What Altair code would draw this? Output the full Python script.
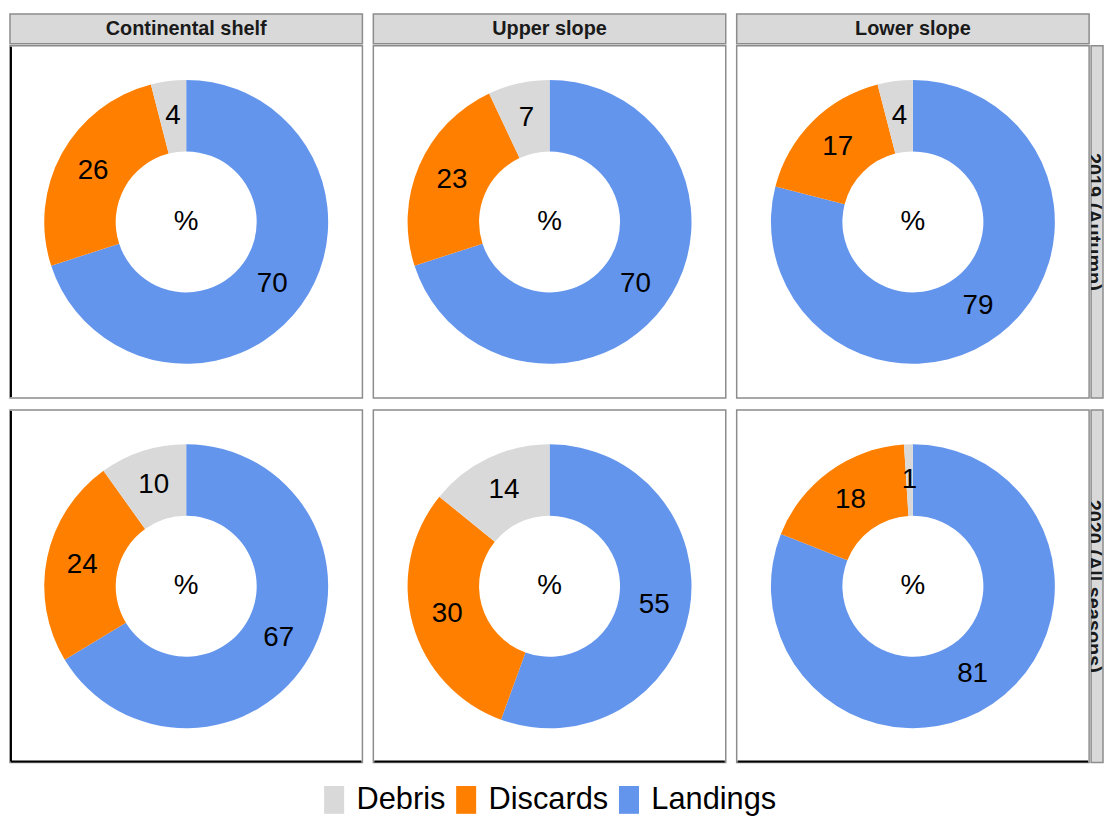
import altair as alt
import pandas as pd

habitats = ["Continental shelf", "Upper slope", "Lower slope"]
periods = ["2019 (Autumn)", "2020 (All seasons)"]
categories = ["Landings", "Discards", "Debris"]
# values in panel order: row 2019 (shelf, upper, lower), row 2020 (shelf, upper, lower)
landings = [70, 70, 79, 67, 55, 81]
discards = [26, 23, 17, 24, 30, 18]
debris = [4, 7, 4, 10, 14, 1]
center_label = ["%"]

legend_order = ["Debris", "Discards", "Landings"]
colors = ["#d9d9d9", "#ff8000", "#6495ed"]

rows = []
for i, per in enumerate(periods):
    for j, hab in enumerate(habitats):
        k = i * 3 + j
        for o, (cat, vals) in enumerate(zip(categories, [landings, discards, debris])):
            rows.append(dict(period=per, habitat=hab, category=cat, value=vals[k], order=o))
df = pd.DataFrame(rows)
pct_df = pd.DataFrame({"label": center_label})

PW = 355
SW = 12
FONT = "Liberation Sans"

color = alt.Color(
    "category:N",
    scale=alt.Scale(domain=legend_order, range=colors),
    legend=alt.Legend(
        title=None,
        orient="none",
        legendX=311,
        legendY=776,
        direction="horizontal",
        symbolType="M-0.72,-1H0.72V1H-0.72Z",
        symbolSize=784,
        symbolStrokeWidth=0,
        labelFontSize=31,
        labelFont=FONT,
        labelColor="black",
        labelOffset=7,
        columnPadding=5,
        padding=0,
    ),
)


def panel(per, hab, left, bottom):
    base = alt.Chart(df).transform_filter(
        (alt.datum.period == per) & (alt.datum.habitat == hab)
    ).encode(
        theta=alt.Theta("value:Q", stack=True),
        order=alt.Order("order:Q", sort="ascending"),
    )
    arc = base.mark_arc(outerRadius=143, innerRadius=71).encode(color=color)
    txt = base.mark_text(radius=107, fontSize=28, font=FONT, color="black").encode(
        text="value:Q"
    )
    pct = alt.Chart(pct_df).mark_text(fontSize=28, font=FONT, color="black").encode(
        text="label:N"
    )
    layers = [arc, txt, pct]
    if left:
        layers.append(
            alt.Chart(pct_df).mark_rule(color="black", strokeWidth=2).encode(
                x=alt.value(1), y=alt.value(1), y2=alt.value(PW - 1)
            )
        )
    if bottom:
        layers.append(
            alt.Chart(pct_df).mark_rule(color="black", strokeWidth=2).encode(
                x=alt.value(1), x2=alt.value(PW - 1), y=alt.value(PW - 1)
            )
        )
    return alt.layer(*layers).properties(
        width=PW,
        height=PW,
        view=alt.ViewBackground(fill="white", stroke="#8c8c8c", strokeWidth=1.5),
    )


def col_strip(hab):
    return alt.Chart(pd.DataFrame({"t": [hab]})).mark_text(
        fontSize=20, fontWeight="bold", font=FONT, color="#1a1a1a"
    ).encode(text="t:N").properties(
        width=PW,
        height=30,
        view=alt.ViewBackground(fill="#d9d9d9", stroke="#8c8c8c", strokeWidth=1.5),
    )


def row_strip(per):
    return alt.Chart(pd.DataFrame({"t": [per]})).mark_text(
        fontSize=20, fontWeight="bold", font=FONT, color="#1a1a1a", angle=90,
        clip=True,
    ).encode(text="t:N", x=alt.value(SW / 2 - 4)).properties(
        width=SW,
        height=PW,
        view=alt.ViewBackground(fill="#d9d9d9", stroke="#8c8c8c", strokeWidth=1.5),
    )


top = alt.hconcat(*[col_strip(h) for h in habitats], spacing=9)
r1 = alt.hconcat(
    alt.hconcat(*[panel(periods[0], h, j == 0, False) for j, h in enumerate(habitats)], spacing=9),
    row_strip(periods[0]),
    spacing=0,
)
r2 = alt.hconcat(
    alt.hconcat(*[panel(periods[1], h, j == 0, True) for j, h in enumerate(habitats)], spacing=9),
    row_strip(periods[1]),
    spacing=0,
)
upper = alt.vconcat(top, r1, spacing=0)
chart = (
    alt.vconcat(upper, r2, spacing=10)
    .resolve_scale(theta="independent", color="shared")
    .properties(padding={"left": 1, "top": 2, "right": 0, "bottom": 0})
    .configure_view(strokeWidth=1.5)
)

chart.save("out.html", embed_options={"renderer": "svg", "actions": False})
